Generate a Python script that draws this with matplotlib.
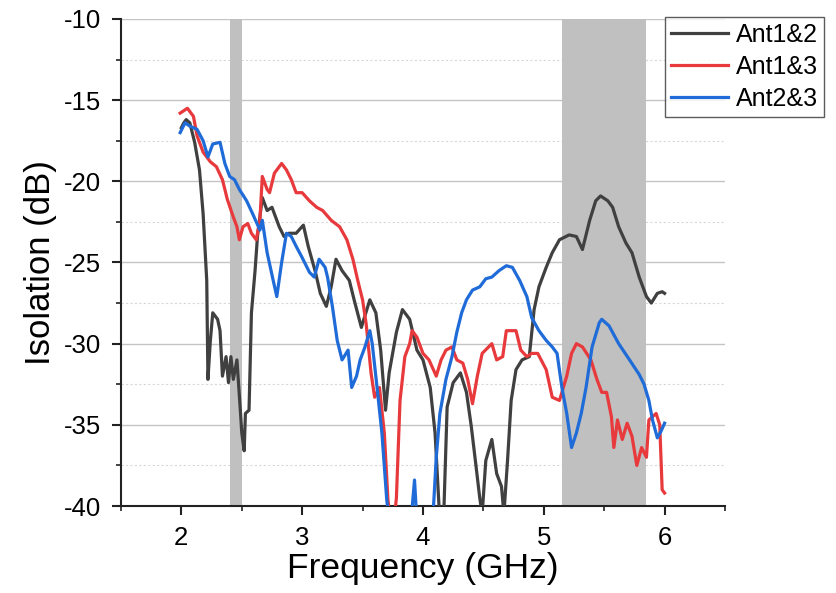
import matplotlib
matplotlib.use("Agg")
import matplotlib.pyplot as plt
from matplotlib.ticker import MultipleLocator

plt.rcParams['font.family'] = ['Liberation Sans', 'DejaVu Sans']
plt.rcParams['axes.unicode_minus'] = False

# Ant1&2
f12 = [2.00, 2.02, 2.04, 2.07, 2.11, 2.15, 2.18, 2.21, 2.22, 2.24, 2.26, 2.30, 2.32, 2.34,
       2.37, 2.39, 2.41, 2.43, 2.46, 2.49, 2.50, 2.52, 2.53, 2.56, 2.58, 2.61, 2.63, 2.67,
       2.71, 2.75, 2.81, 2.85, 2.89, 2.95, 3.01, 3.05, 3.11, 3.15, 3.20, 3.24, 3.28, 3.33,
       3.39, 3.43, 3.49, 3.56, 3.61, 3.65, 3.69, 3.72, 3.78, 3.83, 3.89, 3.95, 4.00, 4.06,
       4.10, 4.14, 4.17, 4.20, 4.25, 4.31, 4.36, 4.40, 4.44, 4.47, 4.49, 4.52, 4.57, 4.61,
       4.65, 4.67, 4.70, 4.73, 4.77, 4.82, 4.88, 4.92, 4.96, 5.02, 5.07, 5.13, 5.21, 5.27,
       5.32, 5.38, 5.43, 5.47, 5.53, 5.57, 5.62, 5.68, 5.73, 5.79, 5.85, 5.89, 5.94, 5.98, 6.00]
s12 = [-16.7, -16.4, -16.2, -16.4, -17.6, -19.3, -22.0, -26.1, -32.2, -29.8, -28.1, -28.5, -29.2, -32.0,
       -30.8, -32.4, -30.8, -32.2, -31.0, -34.3, -35.5, -36.6, -34.3, -34.1, -28.1, -25.5, -23.4, -21.0,
       -21.8, -21.6, -22.8, -23.4, -23.2, -23.2, -22.7, -24.0, -25.6, -26.9, -27.7, -26.5, -24.8, -25.5,
       -26.1, -27.3, -29.0, -27.3, -28.1, -30.4, -34.1, -31.8, -29.3, -27.9, -28.5, -30.4, -31.0, -32.7,
       -35.5, -41.0, -41.0, -33.9, -32.4, -31.8, -33.0, -35.1, -37.6, -39.5, -40.5, -37.2, -35.9, -38.0,
       -38.8, -40.5, -37.2, -33.5, -31.6, -31.0, -30.8, -27.9, -26.5, -25.3, -24.4, -23.6, -23.3, -23.4,
       -24.2, -22.4, -21.2, -20.9, -21.2, -21.6, -22.8, -23.8, -24.4, -25.9, -27.1, -27.5, -26.9, -26.8, -26.9]

# Ant1&3
f13 = [1.99, 2.05, 2.10, 2.13, 2.18, 2.24, 2.29, 2.34, 2.38, 2.43, 2.46, 2.48, 2.51, 2.55,
       2.58, 2.62, 2.65, 2.67, 2.71, 2.73, 2.77, 2.83, 2.87, 2.91, 2.95, 3.00, 3.06, 3.12,
       3.17, 3.24, 3.31, 3.37, 3.42, 3.46, 3.50, 3.53, 3.57, 3.60, 3.64, 3.68, 3.71, 3.73,
       3.76, 3.78, 3.81, 3.85, 3.89, 3.91, 3.95, 4.00, 4.05, 4.11, 4.15, 4.19, 4.24, 4.28,
       4.33, 4.37, 4.41, 4.45, 4.49, 4.57, 4.61, 4.66, 4.69, 4.77, 4.81, 4.86, 4.90, 4.95,
       5.02, 5.07, 5.13, 5.19, 5.23, 5.27, 5.32, 5.39, 5.44, 5.48, 5.52, 5.56, 5.58, 5.61,
       5.65, 5.69, 5.73, 5.77, 5.81, 5.85, 5.87, 5.93, 5.96, 5.98, 6.00]
s13 = [-15.8, -15.5, -16.0, -17.2, -18.2, -18.8, -19.1, -19.9, -21.1, -22.2, -22.8, -23.6, -22.8, -22.6,
       -23.2, -23.6, -22.4, -19.7, -20.5, -20.7, -19.5, -18.9, -19.3, -19.9, -20.7, -20.7, -21.2, -21.6,
       -21.8, -22.4, -22.8, -23.6, -24.8, -26.1, -27.3, -28.8, -31.8, -33.3, -32.7, -35.5, -39.6, -41.0,
       -41.0, -39.5, -33.5, -30.8, -30.0, -29.2, -29.6, -30.6, -31.0, -32.0, -31.0, -30.4, -30.2, -31.0,
       -31.2, -32.2, -33.7, -32.0, -30.6, -30.0, -31.0, -30.8, -29.2, -29.2, -30.4, -30.8, -30.6, -30.6,
       -31.6, -33.3, -33.5, -32.0, -30.6, -30.0, -30.2, -31.0, -32.2, -33.0, -33.0, -34.5, -36.4, -34.7,
       -35.9, -34.9, -35.7, -37.5, -36.4, -37.0, -34.7, -34.3, -35.0, -39.0, -39.2]

# Ant2&3
f23 = [1.99, 2.03, 2.07, 2.13, 2.18, 2.22, 2.26, 2.32, 2.36, 2.40, 2.44, 2.48, 2.54, 2.59,
       2.65, 2.67, 2.71, 2.76, 2.79, 2.83, 2.87, 2.91, 2.95, 3.00, 3.06, 3.10, 3.14, 3.19,
       3.21, 3.25, 3.29, 3.33, 3.38, 3.41, 3.45, 3.48, 3.52, 3.56, 3.58, 3.62, 3.66, 3.70,
       3.72, 3.90, 3.93, 3.95, 4.08, 4.11, 4.14, 4.19, 4.24, 4.28, 4.32, 4.36, 4.41, 4.47,
       4.52, 4.57, 4.63, 4.69, 4.74, 4.80, 4.86, 4.90, 4.96, 5.02, 5.07, 5.11, 5.15, 5.19,
       5.23, 5.27, 5.31, 5.35, 5.40, 5.46, 5.48, 5.54, 5.62, 5.71, 5.79, 5.83, 5.87, 5.90,
       5.94, 5.97, 6.00]
s23 = [-17.0, -16.4, -16.6, -16.8, -17.5, -18.5, -17.7, -17.6, -18.9, -19.7, -19.9, -20.5, -21.2, -22.0,
       -23.0, -22.4, -24.4, -26.1, -27.1, -25.0, -23.2, -23.4, -24.0, -24.7, -25.6, -25.9, -24.8, -25.3,
       -25.9, -27.7, -29.8, -31.0, -30.4, -32.7, -32.0, -31.0, -30.2, -29.2, -30.0, -32.7, -35.5, -39.6,
       -41.0, -41.0, -38.4, -41.0, -41.0, -37.0, -34.3, -32.2, -30.8, -29.3, -28.1, -27.3, -26.7, -26.5,
       -26.0, -25.9, -25.5, -25.2, -25.3, -26.1, -27.1, -28.4, -29.2, -29.8, -30.2, -30.6, -32.7, -34.3,
       -36.4, -35.5, -34.3, -32.7, -30.2, -28.7, -28.5, -28.9, -30.0, -31.0, -31.9, -32.5, -33.5, -34.7,
       -35.8, -35.4, -34.9]

bands = [(2.4, 2.5), (5.15, 5.85)]
labels = ['Ant1&2', 'Ant1&3', 'Ant2&3']
colors = ['#404040', '#e8393c', '#1f6bd8']

fig = plt.figure(figsize=(8.36, 5.93), dpi=100)
ax = fig.add_axes([0.1447, 0.1467, 0.7225, 0.8213])

for lo, hi in bands:
    ax.axvspan(lo, hi, color='#c0c0c0', zorder=1, lw=0)

for f, s, lab, c in zip([f12, f13, f23], [s12, s13, s23], labels, colors):
    ax.plot(f, s, color=c, lw=2.3, label=lab, zorder=3)

ax.set_xlim(1.5, 6.5)
ax.set_ylim(-40, -10)
ax.xaxis.set_major_locator(MultipleLocator(1))
ax.xaxis.set_minor_locator(MultipleLocator(0.5))
ax.yaxis.set_major_locator(MultipleLocator(5))
ax.yaxis.set_minor_locator(MultipleLocator(2.5))

ax.grid(axis='y', which='major', color='#c4c4c4', lw=1.0, zorder=0)
ax.grid(axis='y', which='minor', color='#d8d8d8', lw=0.8, ls=(0, (2, 2)), zorder=0)
ax.set_axisbelow(True)

for side in ['top', 'right']:
    ax.spines[side].set_visible(False)
for side in ['left', 'bottom']:
    ax.spines[side].set_linewidth(1.5)
    ax.spines[side].set_color('#222222')

ax.tick_params(which='major', direction='out', length=6.5, width=1.5, labelsize=18.5,
               colors='#222222', pad=8)
ax.tick_params(which='minor', direction='out', length=3.5, width=1.2, colors='#222222')
ax.tick_params(labelcolor='black')

ax.set_xlabel('Frequency (GHz)', fontsize=25.5, labelpad=1)
ax.set_ylabel('Isolation (dB)', fontsize=25, labelpad=5)

leg = fig.legend(loc='upper right', bbox_to_anchor=(0.986, 0.972), fontsize=18,
                 frameon=True, fancybox=False, edgecolor='#333333', handlelength=2.3,
                 handletextpad=0.3, borderpad=0.25, labelspacing=0.32, borderaxespad=0)
leg.get_frame().set_linewidth(1.0)

fig.savefig('out.png', dpi=100)
